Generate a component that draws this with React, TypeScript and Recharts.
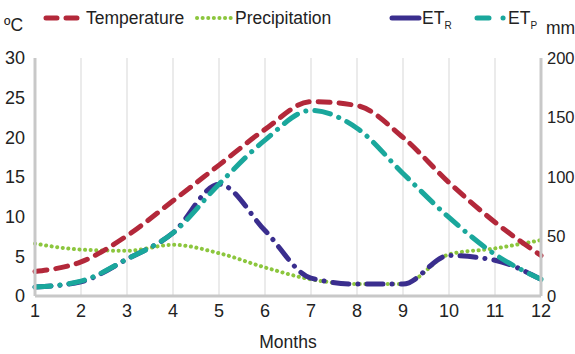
import React from 'react';
import { LineChart, Line, XAxis, YAxis, CartesianGrid } from 'recharts';

const months = [1, 2, 3, 4, 5, 6, 7, 8, 9, 10, 11, 12];
// °C, left axis
const temperature = [3.1, 4.3, 7.6, 12, 16.5, 21, 24.5, 24, 20, 14.3, 9.3, 5.1];
// mm, right axis
const precipitation = [44, 39, 38, 43, 36, 24, 14, 10, 10, 35, 40, 47];
const etR = [7.5, 12, 31, 53, 94, 55, 15, 10, 10, 34, 30, 14];
const etP = [7.5, 12.5, 31, 53, 94, 131, 156, 141, 103, 66, 35, 14];
const tempTicks = [0, 5, 10, 15, 20, 25, 30];
const mmTicks = [0, 50, 100, 150, 200];

const data = months.map((m, i) => ({
  month: m,
  temperature: temperature[i],
  precipitation: precipitation[i],
  etR: etR[i],
  etP: etP[i],
}));

const FONT = '"Liberation Sans", Arial, sans-serif';
const RED = '#b3283a';
const GREEN = '#8cc63e';
const BLUE = '#3a2e8e';
const TEAL = '#1aa79c';

const tick = { fill: '#222', fontSize: 18, fontFamily: FONT };

const LegendRow = () => (
  <div style={{ position: 'absolute', left: 0, top: 0, width: 575, height: 40, fontFamily: FONT, fontSize: 17.5, color: '#222', lineHeight: '20px' }}>
    <svg width={575} height={40} style={{ position: 'absolute', left: 0, top: 0 }}>
      <line x1={46} y1={18} x2={82} y2={18} stroke={RED} strokeWidth={5} strokeDasharray="11 9" strokeLinecap="round" />
      <line x1={197} y1={18} x2={231} y2={18} stroke={GREEN} strokeWidth={4} strokeDasharray="0.1 5.5" strokeLinecap="round" />
      <line x1={392} y1={18} x2={419} y2={18} stroke={BLUE} strokeWidth={5} strokeLinecap="round" />
      <line x1={477} y1={18} x2={505} y2={18} stroke={TEAL} strokeWidth={5} strokeDasharray="12 14 0.1 20" strokeLinecap="round" />
    </svg>
    <span style={{ position: 'absolute', left: 86, top: 8 }}>Temperature</span>
    <span style={{ position: 'absolute', left: 235, top: 8 }}>Precipitation</span>
    <span style={{ position: 'absolute', left: 422, top: 8 }}>ET<sub style={{ fontSize: 10 }}>R</sub></span>
    <span style={{ position: 'absolute', left: 508, top: 8 }}>ET<sub style={{ fontSize: 10 }}>P</sub></span>
    <span style={{ position: 'absolute', left: 4, top: 15 }}>ºC</span>
    <span style={{ position: 'absolute', left: 546, top: 18 }}>mm</span>
  </div>
);

export default function App() {
  return (
    <div style={{ position: 'absolute', left: 0, top: 0, width: 575, height: 354, background: '#fff' }}>
      <LineChart width={575} height={354} data={data} margin={{ top: 58, right: 0, bottom: 0, left: 0 }}>
        <CartesianGrid horizontal={false} stroke="#e4e4e4" strokeWidth={1.5} />
        <XAxis
          type="number"
          dataKey="month"
          domain={[1, 12]}
          ticks={months}
          interval={0}
          height={58}
          tick={tick}
          tickLine={false}
          tickMargin={2}
          axisLine={{ stroke: '#c8c8c8', strokeWidth: 3 }}
          label={{ value: 'Months', position: 'insideBottom', offset: 6, fill: '#222', fontSize: 17.5, fontFamily: FONT }}
        />
        <YAxis
          yAxisId="t"
          domain={[0, 30]}
          ticks={tempTicks}
          width={35}
          tick={tick}
          tickLine={false}
          tickMargin={4}
          axisLine={{ stroke: '#c8c8c8', strokeWidth: 3 }}
        />
        <YAxis
          yAxisId="mm"
          orientation="right"
          domain={[0, 200]}
          ticks={mmTicks}
          width={34}
          tick={{ ...tick, fontSize: 16.5, textAnchor: 'start' }}
          tickLine={false}
          tickMargin={0}
          axisLine={{ stroke: '#c8c8c8', strokeWidth: 3 }}
        />
        <Line yAxisId="mm" type="monotone" dataKey="precipitation" stroke={GREEN} strokeWidth={4} strokeDasharray="0.1 5.5" strokeLinecap="round" dot={false} isAnimationActive={false} />
        <Line yAxisId="mm" type="monotone" dataKey="etR" stroke={BLUE} strokeWidth={5} strokeDasharray="16 9 0.1 9" strokeLinecap="round" dot={false} isAnimationActive={false} />
        <Line yAxisId="mm" type="monotone" dataKey="etP" stroke={TEAL} strokeWidth={5} strokeDasharray="16 9 0.1 9" strokeLinecap="round" dot={false} isAnimationActive={false} />
        <Line yAxisId="t" type="monotone" dataKey="temperature" stroke={RED} strokeWidth={5} strokeDasharray="12 9" strokeLinecap="round" dot={false} isAnimationActive={false} />
      </LineChart>
      <LegendRow />
    </div>
  );
}
